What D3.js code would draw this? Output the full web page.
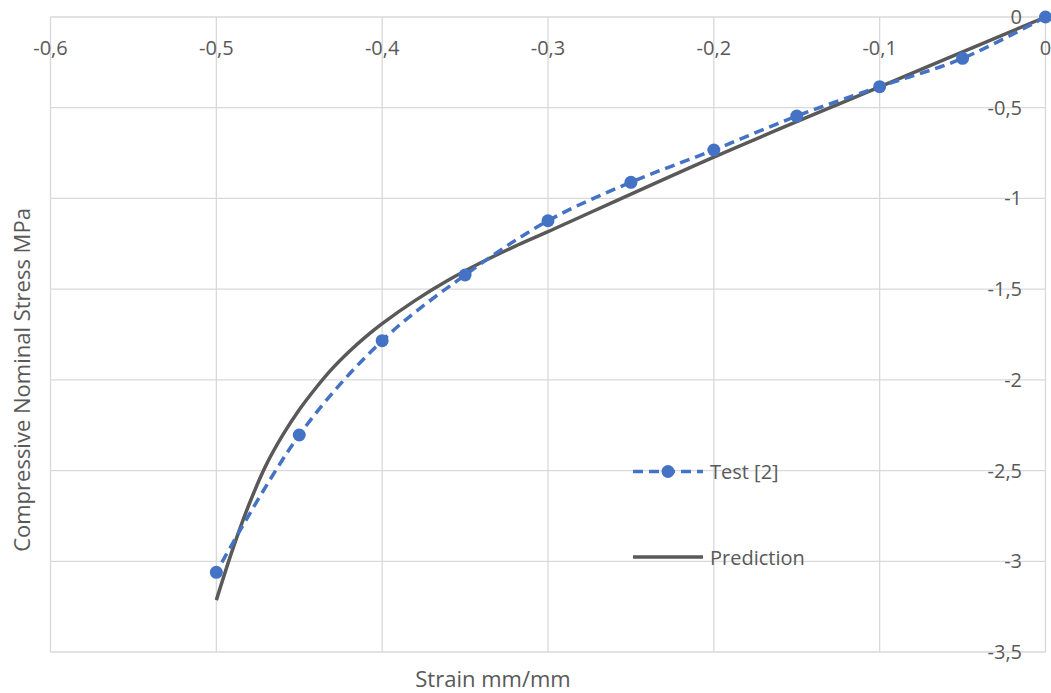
<!DOCTYPE html>
<html><head><meta charset="utf-8">
<script src="https://cdn.jsdelivr.net/npm/d3@7"></script>
<style>body{margin:0;background:#fff;} svg{display:block;font-family:"Open Sans",sans-serif;}</style>
</head><body>
<svg id="chart" width="1051" height="693"></svg>
<script>
const xTicks = [-0.6,-0.5,-0.4,-0.3,-0.2,-0.1,0];
const yTicks = [0,-0.5,-1,-1.5,-2,-2.5,-3,-3.5];
const testStrain = [0,-0.05,-0.1,-0.15,-0.2,-0.25,-0.3,-0.35,-0.4,-0.45,-0.5];
const testStress = [0,-0.228,-0.384,-0.546,-0.733,-0.911,-1.123,-1.422,-1.784,-2.304,-3.061];
const predStrain = [0,-0.1,-0.2,-0.3,-0.32,-0.34,-0.36,-0.38,-0.4,-0.41,-0.42,-0.43,-0.44,-0.45,-0.46,-0.47,-0.48,-0.49,-0.5];
const predStress = [0,-0.385,-0.772,-1.183,-1.264,-1.352,-1.45,-1.562,-1.69,-1.763,-1.845,-1.937,-2.045,-2.165,-2.305,-2.47,-2.68,-2.93,-3.214];
const seriesNames = ["Test [2]","Prediction"];
const xTitle = "Strain mm/mm";
const yTitle = "Compressive Nominal Stress MPa";

const fmt = d => d === 0 ? "0" : String(d).replace(".", ",");
const svg = d3.select("#chart");
const x = d3.scaleLinear().domain([-0.6,0]).range([50.5,1045.5]);
const y = d3.scaleLinear().domain([0,-3.5]).range([17,652]);
const grid = "#d9d9d9", txt = "#595959", blue = "#4472C4", gray = "#595959";

// gridlines
svg.append("g").selectAll("line").data(xTicks).join("line")
  .attr("x1", d=>x(d)).attr("x2", d=>x(d)).attr("y1", y(0)).attr("y2", y(-3.5))
  .attr("stroke", grid).attr("stroke-width",1.3);
svg.append("g").selectAll("line").data(yTicks).join("line")
  .attr("y1", d=>y(d)).attr("y2", d=>y(d)).attr("x1", x(-0.6)).attr("x2", x(0))
  .attr("stroke", grid).attr("stroke-width",1.3);

// x tick labels (top)
svg.append("g").selectAll("text").data(xTicks).join("text")
  .attr("x", d=>x(d)).attr("y", 55).attr("text-anchor","middle")
  .attr("font-size",20).attr("fill",txt).text(fmt);
// y tick labels (right)
svg.append("g").selectAll("text").data(yTicks).join("text")
  .attr("x", 1022).attr("y", d=>y(d)+7).attr("text-anchor","end")
  .attr("font-size",20).attr("fill",txt).text(fmt);

// titles
svg.append("text").attr("x",493).attr("y",687).attr("text-anchor","middle")
  .attr("font-size",22).attr("fill",txt).text(xTitle);
svg.append("text").attr("transform","translate(30,380) rotate(-90)").attr("text-anchor","middle")
  .attr("font-size",22).attr("fill",txt).text(yTitle);

// prediction
const pred = predStrain.map((s,i)=>[s,predStress[i]]);
svg.append("path").datum(pred)
  .attr("d", d3.line().x(d=>x(d[0])).y(d=>y(d[1])).curve(d3.curveCatmullRom.alpha(0.5)))
  .attr("fill","none").attr("stroke",gray).attr("stroke-width",3.5);

// test
const test = testStrain.map((s,i)=>[s,testStress[i]]);
svg.append("path").datum(test)
  .attr("d", d3.line().x(d=>x(d[0])).y(d=>y(d[1])).curve(d3.curveCatmullRom.alpha(0.5)))
  .attr("fill","none").attr("stroke",blue).attr("stroke-width",3.5).attr("stroke-dasharray","10,6");
svg.append("g").selectAll("circle").data(test).join("circle")
  .attr("cx", d=>x(d[0])).attr("cy", d=>y(d[1])).attr("r",6.5).attr("fill",blue);

// legend
const lg = svg.append("g");
lg.append("line").attr("x1",633).attr("x2",703).attr("y1",471.5).attr("y2",471.5)
  .attr("stroke",blue).attr("stroke-width",3.5).attr("stroke-dasharray","10,6");
lg.append("circle").attr("cx",668).attr("cy",471.5).attr("r",6.5).attr("fill",blue);
lg.append("text").attr("x",710).attr("y",479).attr("font-size",20).attr("fill",txt).text(seriesNames[0]);
lg.append("line").attr("x1",633).attr("x2",703).attr("y1",557).attr("y2",557)
  .attr("stroke",gray).attr("stroke-width",3.5);
lg.append("text").attr("x",710).attr("y",564.5).attr("font-size",20).attr("fill",txt).text(seriesNames[1]);
</script>
</body></html>
